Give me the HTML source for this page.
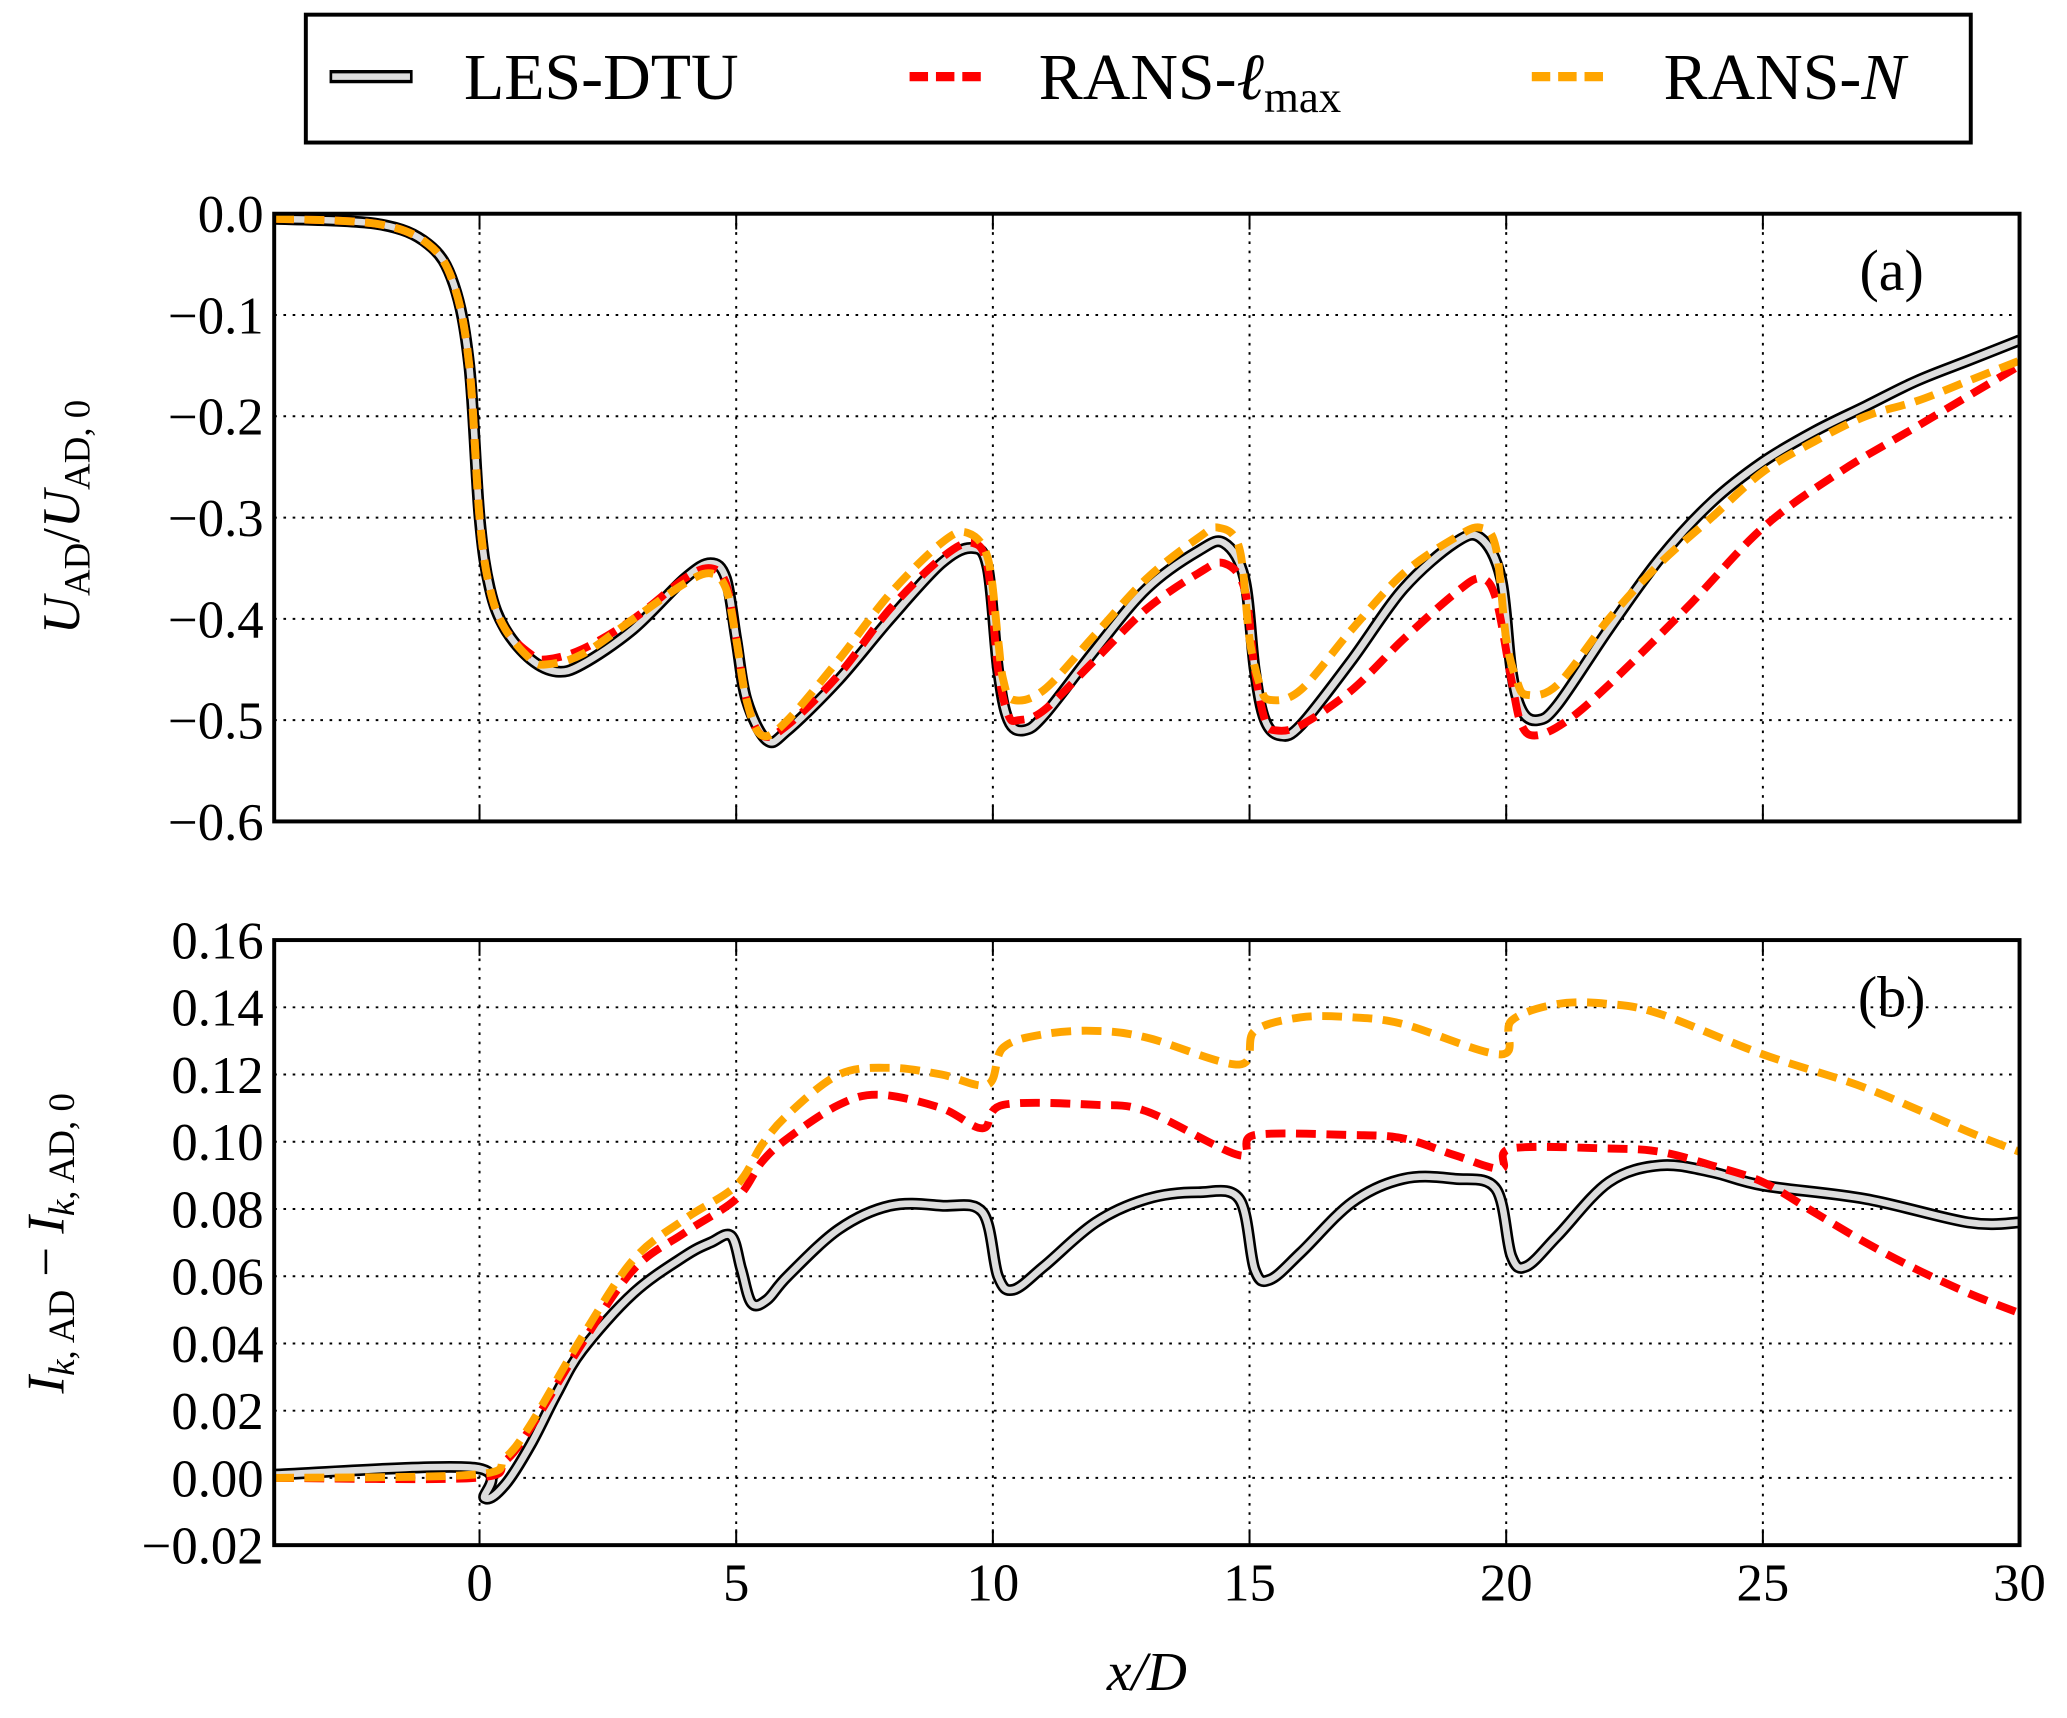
<!DOCTYPE html>
<html><head><meta charset="utf-8"><style>
html,body{margin:0;padding:0;background:#fff}
svg{display:block}
text{font-family:"Liberation Serif",serif;fill:#000}
</style></head><body>
<svg id="chart" width="2067" height="1718" viewBox="0 0 1568 1303" xmlns="http://www.w3.org/2000/svg">
<g id="legend">
<rect x="232" y="11" width="1263" height="97" fill="#fff" stroke="#000" stroke-width="3"/>
<g>
<line x1="250" y1="58" x2="313" y2="58" stroke="#000" stroke-width="10"/>
<line x1="252" y1="58" x2="311" y2="58" stroke="#ddd" stroke-width="5"/>
<text x="352" y="75" font-size="50">LES-DTU</text></g>
<g>
<line x1="690" y1="58" x2="746" y2="58" stroke="#f00" stroke-width="7" stroke-dasharray="14,6"/>
<text x="788" y="75" font-size="50">RANS-<tspan font-style="italic">ℓ</tspan><tspan font-size="34" dy="10">max</tspan></text></g>
<g>
<line x1="1162" y1="58" x2="1218" y2="58" stroke="#ffa500" stroke-width="7" stroke-dasharray="14,6"/>
<text x="1262" y="75" font-size="50">RANS-<tspan font-style="italic">N</tspan></text></g>
</g>
<g id="pa"></g>
<g id="pb"></g>
<text x="870" y="1282" font-size="42" text-anchor="middle" font-style="italic">x/D</text>
</svg>
<script>
const xTicks=[0,5,10,15,20,25,30];
const aTicks=[0.0,-0.1,-0.2,-0.3,-0.4,-0.5,-0.6];
const bTicks=[0.16,0.14,0.12,0.10,0.08,0.06,0.04,0.02,0.00,-0.02];
const aLesX=[-4,-2,-1,-0.5,-0.2,0,0.2,0.5,1,1.5,2,3,4,4.5,4.8,5,5.2,5.6,6,7,8,9,9.6,9.9,10.1,10.3,10.6,11,12,13,14,14.5,14.9,15.1,15.3,15.6,16,17,18,19,19.5,19.9,20.1,20.3,20.6,21,22,23,24,25,26,27,28,29,30];
const aLesY=[-0.005,-0.01,-0.03,-0.07,-0.15,-0.3,-0.37,-0.41,-0.44,-0.452,-0.445,-0.41,-0.36,-0.345,-0.36,-0.42,-0.48,-0.52,-0.51,-0.46,-0.4,-0.345,-0.33,-0.35,-0.45,-0.5,-0.51,-0.495,-0.43,-0.37,-0.333,-0.325,-0.36,-0.45,-0.5,-0.515,-0.505,-0.44,-0.37,-0.325,-0.32,-0.36,-0.45,-0.49,-0.5,-0.485,-0.41,-0.34,-0.285,-0.245,-0.215,-0.19,-0.165,-0.145,-0.125];
const aRedX=[-4,-2,-1,-0.5,-0.2,0,0.2,0.5,1,1.3,2,3,4,4.5,4.8,5,5.2,5.5,6,7,8,9,9.6,9.9,10.1,10.3,10.5,11,12,13,14,14.5,14.9,15.1,15.3,15.5,16,17,18,19,19.5,19.8,20.1,20.3,20.6,21.2,22,23.5,25,26.5,28,30];
const aRedY=[-0.005,-0.01,-0.03,-0.07,-0.15,-0.3,-0.37,-0.41,-0.435,-0.44,-0.43,-0.4,-0.36,-0.35,-0.365,-0.42,-0.48,-0.515,-0.505,-0.455,-0.39,-0.34,-0.325,-0.35,-0.45,-0.495,-0.5,-0.49,-0.44,-0.39,-0.355,-0.345,-0.37,-0.45,-0.5,-0.51,-0.505,-0.47,-0.42,-0.375,-0.36,-0.38,-0.46,-0.505,-0.515,-0.5,-0.465,-0.39,-0.31,-0.255,-0.21,-0.15];
const aOrX=[-4,-2,-1,-0.5,-0.2,0,0.2,0.5,1,1.3,2,3,4,4.5,4.8,5,5.2,5.5,6,7,8,9,9.5,9.9,10.1,10.2,10.4,11,12,13,14,14.4,14.8,15.0,15.2,15.4,16,17,18,19,19.5,19.8,20.0,20.2,20.4,21,22,23,24,25,26,27,28,29,30];
const aOrY=[-0.005,-0.01,-0.03,-0.07,-0.15,-0.3,-0.37,-0.41,-0.44,-0.445,-0.435,-0.4,-0.365,-0.355,-0.37,-0.42,-0.48,-0.515,-0.5,-0.44,-0.375,-0.325,-0.315,-0.34,-0.42,-0.46,-0.48,-0.47,-0.415,-0.36,-0.32,-0.31,-0.33,-0.42,-0.465,-0.48,-0.47,-0.41,-0.355,-0.32,-0.31,-0.33,-0.42,-0.46,-0.475,-0.465,-0.4,-0.345,-0.3,-0.255,-0.225,-0.2,-0.185,-0.165,-0.145];
const bLesX=[-4,-0.1,0.1,0.5,1,1.5,2,3,4,4.5,4.9,5.1,5.3,5.6,6,7,8,9,9.8,10.1,10.4,11,12,13,14,14.8,15.1,15.4,16,17,18,19,19.8,20.1,20.4,21,22,23,24,25,27,29,30];
const bLesY=[0.001,0.003,-0.006,-0.002,0.01,0.025,0.038,0.055,0.066,0.07,0.072,0.062,0.052,0.053,0.06,0.074,0.081,0.081,0.079,0.06,0.056,0.063,0.076,0.083,0.085,0.083,0.062,0.059,0.067,0.082,0.089,0.089,0.086,0.066,0.063,0.072,0.088,0.093,0.091,0.087,0.083,0.076,0.076];
const bRedX=[-4,-0.1,0.5,1,2,3,4,5,5.5,6,7,7.8,9,9.8,10.2,12,13,14.8,15.1,17,18,19,19.9,20.1,22,23,24,25,26,27,28,29,30];
const bRedY=[0,0,0.005,0.015,0.04,0.062,0.073,0.083,0.094,0.101,0.111,0.114,0.11,0.104,0.111,0.111,0.109,0.096,0.102,0.102,0.101,0.096,0.092,0.098,0.098,0.097,0.093,0.088,0.079,0.07,0.062,0.055,0.049];
const bOrX=[-4,-0.1,0.5,1,2,3,4,5,5.5,6,7,8,9,9.9,10.2,11,12,13,14.8,15.1,16,17,18,19.9,20.1,21,22,23,25,27,29,30];
const bOrY=[0,0.001,0.006,0.016,0.042,0.065,0.077,0.087,0.099,0.108,0.12,0.122,0.12,0.117,0.128,0.132,0.133,0.131,0.123,0.133,0.137,0.137,0.135,0.126,0.136,0.141,0.141,0.138,0.126,0.116,0.103,0.097];

const NS='http://www.w3.org/2000/svg';
const L=208,R=1532;
const sx=v=>L+(v+4)*(R-L)/34;
function mk(tag,attrs,parent){const e=document.createElementNS(NS,tag);for(const k in attrs)e.setAttribute(k,attrs[k]);parent.appendChild(e);return e;}
function pathD(xs,ys,sy){const p=xs.map((x,i)=>[sx(x),sy(ys[i])]);let d='M'+p[0][0].toFixed(1)+','+p[0][1].toFixed(1);
for(let i=0;i<p.length-1;i++){const p0=p[Math.max(0,i-1)],p1=p[i],p2=p[i+1],p3=p[Math.min(p.length-1,i+2)];
const c1=[p1[0]+(p2[0]-p0[0])/6,p1[1]+(p2[1]-p0[1])/6],c2=[p2[0]-(p3[0]-p1[0])/6,p2[1]-(p3[1]-p1[1])/6];
d+=' C'+c1[0].toFixed(1)+','+c1[1].toFixed(1)+' '+c2[0].toFixed(1)+','+c2[1].toFixed(1)+' '+p2[0].toFixed(1)+','+p2[1].toFixed(1);}return d;}
function panel(g,top,bot,ymax,ymin,ticks,dec,series,label,ytitle,tcy){
 const sy=v=>top+(ymax-v)*(bot-top)/(ymax-ymin);
 const cid='clip'+top;
 const cp=mk('clipPath',{id:cid},g);mk('rect',{x:L,y:top,width:R-L,height:bot-top},cp);
 ticks.forEach(t=>{const y=sy(t);
  const gl=mk('line',{x1:L,x2:R,y1:y,y2:y,stroke:'#000','stroke-width':1.5,'stroke-dasharray':'2,5'},g);
  
  
  const tl=mk('text',{x:L-8,y:y+14,'font-size':40,'text-anchor':'end'},g);
  
  
  tl.textContent=(t<0?'\u2212':'')+Math.abs(t).toFixed(dec);});
 xTicks.forEach(t=>{const x=sx(t);
  if(t<30){const gl=mk('line',{x1:x,x2:x,y1:top,y2:bot,stroke:'#000','stroke-width':1.5,'stroke-dasharray':'2,5'},g);
  
  
  mk('line',{x1:x,x2:x,y1:top,y2:top+12,stroke:'#000','stroke-width':1.5},g);
  mk('line',{x1:x,x2:x,y1:bot,y2:bot-12,stroke:'#000','stroke-width':1.5},g);}});
 const cg=mk('g',{'clip-path':'url(#'+cid+')'},g);
 const [lx,ly,rx,ry,ox,oy]=series;
 const les1=mk('path',{d:pathD(lx,ly,sy),fill:'none',stroke:'#000','stroke-width':9},cg);
 
 
 mk('path',{d:pathD(lx,ly,sy),fill:'none',stroke:'#ddd','stroke-width':5},cg);
 const red=mk('path',{d:pathD(rx,ry,sy),fill:'none',stroke:'#f00','stroke-width':6,'stroke-dasharray':'15,8'},cg);
 
 
 const org=mk('path',{d:pathD(ox,oy,sy),fill:'none',stroke:'#ffa500','stroke-width':6,'stroke-dasharray':'15,8'},cg);
 
 
 mk('rect',{x:L,y:top,width:R-L,height:bot-top,fill:'none',stroke:'#000','stroke-width':3},g);
 const pl=mk('text',{x:1435,y:top+58,'font-size':44,'text-anchor':'middle'},g);
 
 
 pl.textContent=label;
 const yt=mk('text',{x:0,y:0,'font-size':40,'text-anchor':'middle',transform:'translate('+(tcy[0])+','+tcy[1]+') rotate(-90)'},g);
 
 
 yt.innerHTML=ytitle;
}
panel(document.getElementById('pa'),162,623,0,-0.6,aTicks,1,[aLesX,aLesY,aRedX,aRedY,aOrX,aOrY],'(a)',
 '<tspan font-style="italic">U</tspan><tspan font-size="28" dy="8">AD</tspan><tspan dy="-8">/</tspan><tspan font-style="italic">U</tspan><tspan font-size="28" dy="8">AD, 0</tspan>',[60,392]);
panel(document.getElementById('pb'),713,1172,0.16,-0.02,bTicks,2,[bLesX,bLesY,bRedX,bRedY,bOrX,bOrY],'(b)',
 '<tspan font-style="italic">I</tspan><tspan font-size="28" dy="8"><tspan font-style="italic">k</tspan>, AD</tspan><tspan dy="-8"> \u2212 </tspan><tspan font-style="italic">I</tspan><tspan font-size="28" dy="8"><tspan font-style="italic">k</tspan>, AD, 0</tspan>',[48,943]);
const xg=document.getElementById('chart');
xTicks.forEach(t=>{const tl=mk('text',{x:sx(t),y:1214,'font-size':40,'text-anchor':'middle'},xg);
 
 
 tl.textContent=t;});
</script>
</body></html>
